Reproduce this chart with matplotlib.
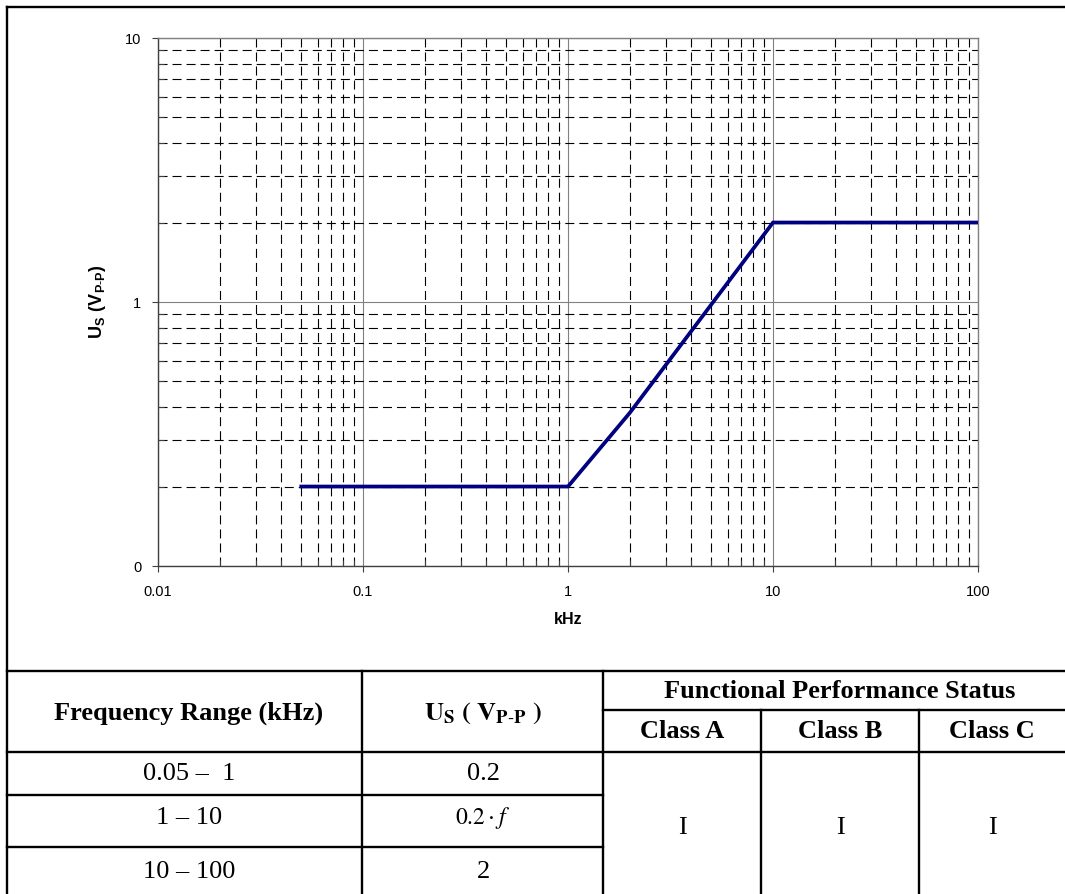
import matplotlib
matplotlib.use('Agg')
import matplotlib.pyplot as plt
from matplotlib.ticker import LogLocator, NullFormatter

plt.rcParams['font.family'] = ['Liberation Sans', 'DejaVu Sans']
plt.rcParams['lines.scale_dashes'] = False
plt.rcParams['mathtext.fontset'] = 'custom'
plt.rcParams['mathtext.rm'] = 'Liberation Sans'
plt.rcParams['mathtext.bf'] = 'Liberation Sans:bold'

# curve
freq = [0.05, 1, 2, 10, 100]
us = [0.2, 0.2, 0.38, 2, 2]

x_ticks = [0.01, 0.1, 1, 10, 100]
x_labels = ['0.01', '0.1', '1', '10', '100']
y_ticks = [0.1, 1, 10]
y_labels = ['0', '1', '10']

# table contents
ranges = ['0.05 \u2013  1', '1 \u2013 10', '10 \u2013 100']
levels = ['0.2', r'$0.2\cdot f$', '2']
classes = ['Class A', 'Class B', 'Class C']
status = ['I', 'I', 'I']

W, H = 1065, 894
fig = plt.figure(figsize=(W / 100, H / 100), dpi=100)

# background axes in pixel units for the frame and the table
bg = fig.add_axes([0, 0, 1, 1])
bg.set_xlim(0, W)
bg.set_ylim(H, 0)
bg.axis('off')

lw = 1.7
def hl(y, x0, x1):
    bg.plot([x0, x1], [y, y], color='black', lw=lw, solid_capstyle='projecting')
def vl(x, y0, y1):
    bg.plot([x, x], [y0, y1], color='black', lw=lw, solid_capstyle='projecting')

hl(7, 7, W + 5)
vl(7, 7, H + 5)
hl(671, 7, W + 5)
hl(710, 603, W + 5)
hl(752, 7, W + 5)
hl(795, 7, 603)
hl(847, 7, 603)
vl(362, 671, H + 5)
vl(603, 671, H + 5)
vl(761, 710, H + 5)
vl(919, 710, H + 5)

serif = ['Liberation Serif', 'DejaVu Serif']
fs = 19
bg.text(189, 713, 'Frequency Range (kHz)', ha='center', va='center',
        fontsize=fs, fontweight='bold', family=serif)
bg.text(483, 713, r'$\mathbf{U}_\mathbf{S}\mathbf{\ (\ V}_{\mathbf{P\text{-}P}}\mathbf{\ )}$',
        ha='center', va='center', fontsize=fs, math_fontfamily='stix')
bg.text(840, 691, 'Functional Performance Status', ha='center', va='center',
        fontsize=fs, fontweight='bold', family=serif)
col_x = [682, 840, 992]
for cx, c in zip(col_x, classes):
    bg.text(cx, 731, c, ha='center', va='center', fontsize=fs,
            fontweight='bold', family=serif)
row_y = [774, 818, 872]
for ry, r, v in zip(row_y, ranges, levels):
    bg.text(189, ry, r, ha='center', va='center', fontsize=fs, family=serif)
    bg.text(483, ry, v, ha='center', va='center', fontsize=fs - 2 if v.startswith('$') else fs,
            family=serif, math_fontfamily='stix')
for cx, s in zip(col_x, status):
    bg.text(cx, 828, s, ha='center', va='center', fontsize=fs, family=serif)

# chart
ax = fig.add_axes([158 / W, 1 - 566 / H, 820 / W, 528 / H])
ax.set_xscale('log')
ax.set_yscale('log')
ax.set_xlim(0.01, 100)
ax.set_ylim(0.1, 10)

ax.plot(freq, us, color='#000080', lw=2.7, solid_joinstyle='miter', zorder=5)

ax.xaxis.set_minor_locator(LogLocator(base=10, subs=range(2, 10)))
ax.yaxis.set_minor_locator(LogLocator(base=10, subs=range(2, 10)))
ax.xaxis.set_minor_formatter(NullFormatter())
ax.yaxis.set_minor_formatter(NullFormatter())
ax.set_xticks(x_ticks, x_labels)
ax.set_yticks(y_ticks, y_labels)

ax.grid(which='major', color='#808080', lw=0.8, ls='-')
ax.grid(which='minor', color='black', lw=0.8, ls=(0, (6.5, 3.6)))
ax.set_axisbelow(True)

for s in ['left', 'bottom']:
    ax.spines[s].set_color('#404040')
for s in ['top', 'right']:
    ax.spines[s].set_color('#808080')
for s in ax.spines.values():
    s.set_linewidth(1.0)

ax.tick_params(which='major', direction='out', length=4, width=0.8, color='#404040',
               labelsize=10.5)
ax.tick_params(axis='x', which='major', pad=10)
ax.tick_params(axis='y', which='major', pad=8)
ax.tick_params(which='minor', direction='in', length=4, width=0.8, color='#404040')

ax.set_xlabel('kHz', fontsize=11.5, fontweight='bold', labelpad=9)
ax.set_ylabel(r'$\mathbf{U}_\mathbf{S}\mathbf{\ (V}_{\mathbf{P\text{-}P}}\mathbf{)}$',
              fontsize=13, labelpad=12)

fig.savefig('out.png', dpi=100)
